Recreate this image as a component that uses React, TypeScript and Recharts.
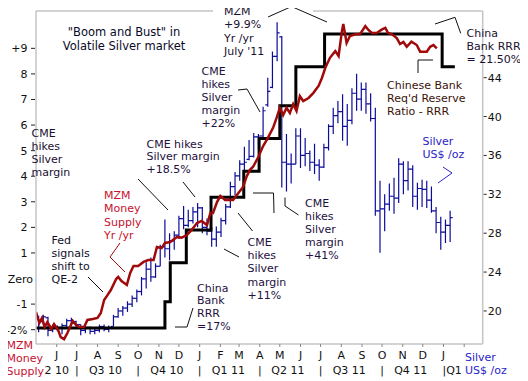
import React from 'react';
import { ComposedChart, Bar, Line, XAxis, YAxis, ReferenceLine } from 'recharts';

const FONT = '"DejaVu Sans", Verdana, Tahoma, sans-serif';
const FS = 11;

const BASE = Date.UTC(2010, 5, 1);
const toDay = (s: string) => {
  const [y, m, d] = s.split('-').map(Number);
  return Math.round((Date.UTC(y, m - 1, d) - BASE) / 86400000);
};

// ---- Silver, weekly bars (US$/oz), first week starting 2010-05-05 ----
const silverFirstWeek = '2010-05-05';
const silverHigh = [19.5,19.6,19.4,18.6,18.5,18.7,19.2,19.3,19.0,18.6,18.5,18.4,18.3,18.6,18.6,18.5,
  19.6,20.3,20.5,21.0,21.6,22.2,23.5,25.0,25.5,24.9,
  26.8,29.4,28.0,28.2,29.8,30.8,30.4,30.7,31.1,30.7,
  29.5,28.6,28.7,29.6,31.0,33.3,34.3,35.5,36.9,37.6,
  38.3,38.2,41.0,44.0,46.7,49.7,48.3,38.2,36.2,38.8,
  38.8,37.8,36.5,37.2,35.6,37.2,39.2,40.9,41.6,42.3,
  41.3,42.9,44.4,43.5,43.5,42.4,40.9,33.4,32.0,33.1,
  33.7,35.7,35.4,35.4,35.0,33.2,33.5,33.4,32.8,30.7,
  29.7,29.4,30.3];
const silverLow = [17.8,18.6,17.4,17.8,17.9,17.6,18.3,18.5,18.4,17.5,17.7,17.6,17.6,17.8,17.9,17.8,
  18.4,19.3,19.5,19.9,20.4,20.9,21.6,22.3,23.0,23.4,
  24.6,25.5,25.2,26.3,27.4,28.4,28.6,29.0,28.6,28.0,
  27.8,26.6,26.6,27.6,28.9,30.6,31.9,33.4,34.4,35.5,
  35.8,36.6,37.8,41.0,42.9,45.7,32.7,32.3,33.1,35.1,
  34.7,34.9,34.4,34.1,33.4,34.7,36.5,38.2,39.3,37.5,
  37.0,39.2,40.6,40.6,40.3,39.5,29.8,26.0,28.2,30.3,
  30.0,31.1,32.0,32.4,30.7,30.4,30.7,30.6,30.1,28.0,
  26.3,27.0,27.1];
const silverOpen = [18.3,18.9,19.3,18.0,18.4,18.3,18.5,19.0,18.9,18.6,18.0,18.3,17.9,18.0,18.4,18.1,
  18.4,19.4,20.0,20.3,20.7,21.3,22.0,23.3,24.3,23.5,
  24.6,26.6,26.4,27.2,27.8,29.5,28.8,29.3,30.2,30.6,
  28.6,28.2,27.4,28.1,29.3,30.7,32.8,33.9,35.1,35.6,
  35.9,37.9,38.0,41.2,43.0,46.2,48.2,35.3,35.1,35.1,
  38.0,36.0,36.2,35.3,35.0,34.8,36.8,39.0,40.1,40.5,
  39.0,39.6,42.4,41.8,42.8,41.3,39.8,30.3,30.5,31.0,
  31.8,31.6,35.1,33.4,34.6,31.8,32.6,32.5,31.4,30.3,
  29.1,28.1,28.8];
const silverClose = [18.9,19.4,18.0,18.4,18.3,18.5,19.0,18.9,18.6,18.0,18.3,17.9,18.0,18.4,18.1,18.3,
  19.4,20.0,20.3,20.7,21.3,22.0,23.3,24.3,23.5,24.6,
  26.6,26.4,27.2,27.8,29.5,28.8,29.3,30.2,30.6,28.6,
  28.2,27.4,28.1,29.3,30.7,32.8,33.9,35.1,35.3,35.9,
  37.9,38.0,40.6,42.6,46.2,48.6,35.3,35.1,35.1,38.0,
  36.0,36.2,35.3,35.0,34.8,36.8,39.0,40.1,40.5,39.0,
  39.6,42.4,41.8,42.8,41.3,39.8,30.3,30.5,31.0,31.8,
  31.6,35.1,33.4,34.6,31.8,32.6,32.5,31.4,30.3,29.1,
  28.1,28.8,29.6];

// ---- MZM money supply, yr/yr % (x = days since 2010-06-01) ----
const mzmDays = [-31,-26,-22,-18,-14,-8,-4,2,6,11,16,24,29,34,41,46,54,61,66,71,76,81,89,92,97,105,110,115,122,130,137,145,150,157,162,170,180,187,195,202,210,217,225,230,234,240,245,252,264,272,279,284,289,294,302,309,316,324,329,334,339,344,349,354,359,364,369,377,384,392,397,402,409,417,422,427,429,434,439,447,454,462,467,472,479,487,492,496,502,509,514,519,524,531,539,544,554,559,564,569];
const mzmYoY = [-1.31,-1.74,-1.54,-1.90,-1.70,-1.97,-1.78,-2.01,-2.29,-2.37,-2.13,-1.66,-1.82,-1.90,-1.90,-1.62,-1.58,-1.54,-1.35,-0.84,-0.65,-0.45,-0.02,0.06,-0.10,-0.25,0.22,0.49,0.49,0.65,0.72,0.72,1.23,1.19,1.39,1.43,1.62,1.60,1.70,1.90,2.17,2.25,2.09,2.56,2.56,2.99,3.23,3.07,3.07,3.34,3.58,3.97,4.24,4.37,4.76,5.18,5.49,5.90,6.27,6.67,6.39,6.67,6.47,6.82,6.55,7.13,6.94,7.06,7.25,7.53,7.84,8.23,8.63,8.89,8.70,9.68,9.95,9.21,9.48,9.55,9.55,9.87,9.71,9.60,9.60,9.74,9.80,9.60,9.55,9.40,9.17,9.25,9.06,9.26,9.13,8.87,8.87,9.06,9.13,9.00];

// ---- China bank reserve requirement ratio, % ----
const rrrDates = ['2010-05-01','2010-11-10','2010-11-18','2010-12-12','2011-01-18','2011-03-08','2011-03-31','2011-05-01','2011-05-25','2011-07-07','2011-12-30','2012-01-18'];
const rrrLevel = [17, 17.4, 18, 18.5, 19, 19.4, 19.9, 20.4, 21, 21.5, 21, 21];

// ---- axes ----
const monthTickDates = ['2010-06-01','2010-07-01','2010-08-01','2010-09-01','2010-10-01','2010-11-01','2010-12-01','2011-01-01','2011-02-01','2011-03-01','2011-04-01','2011-05-01','2011-06-01','2011-07-01','2011-08-01','2011-09-01','2011-10-01','2011-11-01','2011-12-01','2012-01-01','2012-02-01'];
const monthLabels = ['J','J','A','S','O','N','D','J','F','M','A','M','J','J','A','S','O','N','D','J',''];
const quarterLabels = ['2 10','','Q3 10','','','Q4 10','','','Q1 11','','','Q2 11','','','Q3 11','','','Q4 11','','',''];
const quarterSeps = ['','|','','','|','','','|','','','|','','','|','','','|','','','|Q1',''];
const leftTicks = [-2,-1,0,1,2,3,4,5,6,7,8,9];
const leftTickLabels = ['-2%','-1','Zero','1','2','3','4','5','6','7','8','+9'];
const rightTicks = [20,24,28,32,36,40,44];

const monthTickDays = monthTickDates.map(toDay);
const firstWeekDay = toDay(silverFirstWeek);
const silverData = silverHigh.map((h, i) => ({
  d: firstWeekDay + 7 * i,
  range: [silverLow[i], h],
  high: h, low: silverLow[i], open: silverOpen[i], close: silverClose[i],
}));
const mzmData = mzmDays.map((d, i) => ({ d, mzm: mzmYoY[i] }));
const rrrData = rrrDates.map((s, i) => ({ d: toDay(s), rrr: rrrLevel[i] }));

const BLUE = '#0c0c9c';
const RED = '#a00a0a';
const FRAME = '#c4c4c4';

const OHLC = (p: any) => {
  const { x, y, width, height, payload } = p;
  if (x == null || y == null || !payload) return null;
  const top = Math.min(y, y + height);
  const h = Math.abs(height);
  const cx = x + width / 2;
  const span = payload.high - payload.low || 1;
  const yo = top + ((payload.high - payload.open) / span) * h;
  const yc = top + ((payload.high - payload.close) / span) * h;
  return (
    <g stroke={BLUE} strokeWidth={1.2}>
      <line x1={cx} x2={cx} y1={top} y2={top + h} />
      <line x1={cx - 2.5} x2={cx} y1={yo} y2={yo} />
      <line x1={cx} x2={cx + 2.5} y1={yc} y2={yc} />
    </g>
  );
};

const LeftTick = (p: any) => {
  const { x, y, payload } = p;
  const i = leftTicks.indexOf(payload.value);
  if (i < 0) return null;
  const isZero = payload.value === 0;
  return (
    <g>
      {!isZero && <line x1={x - 5} x2={x - 1} y1={y} y2={y} stroke="#222" />}
      <text x={isZero ? x - 3 : x - 8.5} y={y + 4} textAnchor="end" fontFamily={FONT} fontSize={FS} fill="#111">
        {leftTickLabels[i]}
      </text>
    </g>
  );
};

const RightTick = (p: any) => {
  const { x, y, payload } = p;
  return (
    <g>
      <line x1={x + 1} x2={x + 4} y1={y} y2={y} stroke="#222" />
      <text x={x + 5} y={y + 4} textAnchor="start" fontFamily={FONT} fontSize={FS} fill="#111">
        {payload.value}
      </text>
    </g>
  );
};

const MonthTick = (p: any) => {
  const { x, y, payload } = p;
  const i = monthTickDays.indexOf(payload.value);
  if (i < 0) return null;
  const q = quarterLabels[i];
  const sep = quarterSeps[i];
  return (
    <g fontFamily={FONT} fontSize={FS} fill="#111">
      <line x1={x} x2={x} y1={y} y2={y + 3} stroke="#888" />
      {monthLabels[i] && <text x={x} y={y + 15} textAnchor="middle">{monthLabels[i]}</text>}
      {sep && (
        <text x={sep === '|' ? x : x - 1} y={y + 30} textAnchor={sep === '|' ? 'middle' : 'start'}>{sep}</text>
      )}
      {q && <text x={i === 0 ? x : x + 8} y={y + 30} textAnchor="middle">{q}</text>}
    </g>
  );
};

type Note = { x: number; y: number; lines: string[]; color: string; anchor?: 'start' | 'middle'; lh?: number; fs?: number };
const notes: Note[] = [
  { x: 124, y: 36, lines: ['"Boom and Bust" in', 'Volatile Silver market'], color: '#0a0a28', anchor: 'middle', lh: 14, fs: 11.5 },
  { x: 224, y: 15, lines: ['MZM', '+9.9%', 'Yr /yr', "July '11"], color: '#1a1030', lh: 13.3 },
  { x: 201.5, y: 75, lines: ['CME', 'hikes', 'Silver', 'margin', '+22%'], color: '#241040', lh: 13.1 },
  { x: 31.5, y: 136.5, lines: ['CME', 'hikes', 'Silver', 'margin'], color: '#1a1030', lh: 13 },
  { x: 146.5, y: 147.5, lines: ['CME hikes', 'Silver margin', '+18.5%'], color: '#241040', lh: 12.6 },
  { x: 104, y: 199, lines: ['MZM', 'Money', 'Supply', 'Yr /yr'], color: '#c8102e', lh: 13.3 },
  { x: 51.5, y: 243.5, lines: ['Fed', 'signals', 'shift to', 'QE-2'], color: '#101028', lh: 13 },
  { x: 197, y: 291.5, lines: ['China', 'Bank', 'RRR', '=17%'], color: '#241040', lh: 12.9 },
  { x: 247.5, y: 246, lines: ['CME', 'hikes', 'Silver', 'margin', '+11%'], color: '#241040', lh: 13.2 },
  { x: 305, y: 207, lines: ['CME', 'hikes', 'Silver', 'margin', '+41%'], color: '#241040', lh: 12.9 },
  { x: 466.5, y: 36.5, lines: ['China', 'Bank RRR', '= 21.50%'], color: '#1a1030', lh: 13.3 },
  { x: 387, y: 89, lines: ["Chinese Bank", "Req'd Reserve", 'Ratio - RRR'], color: '#3a1208', lh: 12.9 },
  { x: 422.5, y: 145, lines: ['Silver', 'US$ /oz'], color: '#2b24c8', lh: 13 },
  { x: 6.5, y: 348.5, lines: ['MZM', 'Money', 'Supply'], color: '#c8102e', lh: 13 },
  { x: 465, y: 361, lines: ['Silver', 'US$ /oz'], color: '#2b24c8', lh: 13 },
];
const leaders: { pts: number[][]; color: string }[] = [
  { pts: [[268, 17], [291.5, 6.5], [327, 22]], color: '#111' },
  { pts: [[238, 90], [247, 89], [260, 112]], color: '#111' },
  { pts: [[138, 179], [168, 210]], color: '#111' },
  { pts: [[183, 182], [195, 197]], color: '#111' },
  { pts: [[120, 243], [110, 257], [125, 272]], color: RED },
  { pts: [[88, 277], [103, 292]], color: '#111' },
  { pts: [[175, 327], [187, 327], [193, 308]], color: '#111' },
  { pts: [[238, 213], [252.5, 231]], color: '#111' },
  { pts: [[224, 249], [239, 257]], color: '#111' },
  { pts: [[253, 193], [273.5, 193], [274, 213]], color: '#111' },
  { pts: [[285, 197.5], [285, 206], [298.5, 215]], color: '#111' },
  { pts: [[435, 24], [455, 17.3], [460.7, 33.3]], color: '#111' },
  { pts: [[418, 73], [418, 60], [433, 60]], color: '#111' },
  { pts: [[438, 183], [452, 173], [443, 167]], color: '#2b24c8' },
];

export default function App() {
  return (
    <div style={{ position: 'relative', width: 528, height: 381, margin: '-8px 0 0 -8px' }}>
      <ComposedChart width={528} height={381} data={silverData} margin={{ top: 11, right: 0, bottom: 0, left: 0 }}>
        <XAxis
          dataKey="d" type="number" domain={[-31, 637.7]} allowDataOverflow ticks={monthTickDays}
          interval={0} tick={<MonthTick />} tickLine={false} tickSize={0} tickMargin={0}
          axisLine={{ stroke: FRAME, strokeWidth: 1.5 }} height={37}
        />
        <YAxis
          yAxisId="left" domain={[-2.56, 10.46]} allowDataOverflow ticks={leftTicks} interval={0}
          tick={<LeftTick />} tickLine={false} tickSize={0} tickMargin={0} width={36}
          axisLine={{ stroke: FRAME, strokeWidth: 1.5 }}
        />
        <YAxis
          yAxisId="right" orientation="right" domain={[16.6, 50.86]} allowDataOverflow ticks={rightTicks}
          interval={0} tick={<RightTick />} tickLine={false} tickSize={0} tickMargin={0} width={45.3}
          axisLine={{ stroke: FRAME, strokeWidth: 1.5 }}
        />
        <YAxis yAxisId="rrr" hide domain={[16.755, 21.852]} allowDataOverflow />
        <ReferenceLine yAxisId="left" y={10.46} stroke={FRAME} strokeWidth={1.5} ifOverflow="visible" />
        <Bar yAxisId="right" dataKey="range" barSize={5} shape={<OHLC />} isAnimationActive={false} />
        <Line
          yAxisId="rrr" data={rrrData} dataKey="rrr" type="stepAfter" stroke="#000" strokeWidth={3}
          dot={false} activeDot={false} isAnimationActive={false}
        />
        <Line
          yAxisId="left" data={mzmData} dataKey="mzm" type="linear" stroke={RED} strokeWidth={2.5}
          dot={false} activeDot={false} isAnimationActive={false}
        />
      </ComposedChart>
      <svg width={528} height={381} style={{ position: 'absolute', left: 0, top: 0, pointerEvents: 'none' }}>
        <rect x={213} y={8} width={100} height={6} fill="#fff" />
        {leaders.map((l, i) => (
          <polyline key={i} points={l.pts.map((q) => q.join(',')).join(' ')} fill="none" stroke={l.color} strokeWidth={1} />
        ))}
        {notes.map((n, i) => (
          <text key={i} fontFamily={FONT} fontSize={n.fs || FS} fill={n.color} textAnchor={n.anchor || 'start'}>
            {n.lines.map((t, j) => (
              <tspan key={j} x={n.x} y={n.y + j * (n.lh || 13)}>{t}</tspan>
            ))}
          </text>
        ))}
      </svg>
    </div>
  );
}
